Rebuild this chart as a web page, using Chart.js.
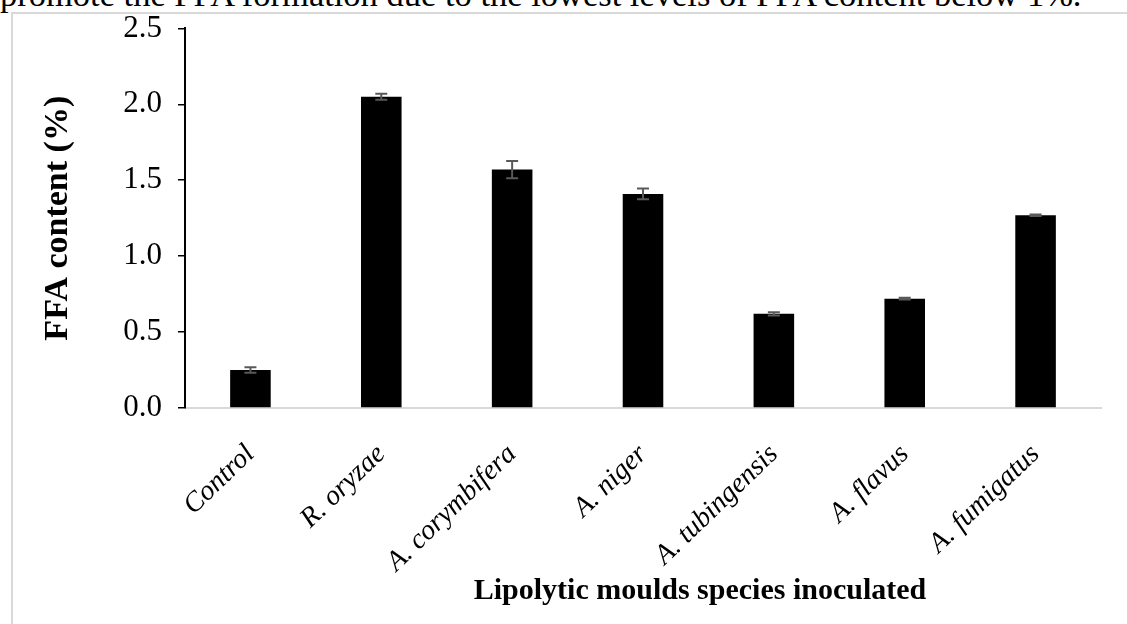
<!DOCTYPE html>
<html>
<head>
<meta charset="utf-8">
<script src="https://cdn.jsdelivr.net/npm/chart.js@4"></script>
<style>
  html, body { margin: 0; padding: 0; background: #fff; overflow: hidden; }
  body { width: 1127px; height: 624px; position: relative; font-family: 'Liberation Serif', 'Times New Roman', serif; }
  #above { position: absolute; left: 0; top: -23px; font-size: 34.5px; line-height: 1; white-space: nowrap; color: #000; }
  #frame { position: absolute; left: 11px; top: 12px; width: 1300px; height: 800px; border-left: 2px solid #d9d9d9; border-top: 2px solid #d9d9d9; }
  #myChart { position: absolute; left: 0; top: 0; }
  #xtitle { position: absolute; left: 470px; top: 574px; width: 460px; text-align: center; font-weight: bold; font-size: 30px; line-height: 1; white-space: nowrap; color: #000; }
</style>
</head>
<body>
<div id="above">promote the FFA formation due to the lowest levels of FFA content below 1%.</div>
<div id="frame"></div>
<canvas id="myChart" width="1127" height="624"></canvas>
<div id="xtitle">Lipolytic moulds species inoculated</div>
<script>
// ข้อมูลกราฟ
const categories = ['Control', 'R. oryzae', 'A. corymbifera', 'A. niger', 'A. tubingensis', 'A. flavus', 'A. fumigatus'];
const ffaContent = [0.25, 2.05, 1.57, 1.41, 0.62, 0.72, 1.27];
const ffaError = [0.018, 0.02, 0.057, 0.035, 0.01, 0.006, 0.005];
const yTicks = [0, 0.5, 1.0, 1.5, 2.0, 2.5];

const serif = "'Liberation Serif', 'Times New Roman', serif";

// error bars drawn after the bars
const errorBars = {
    id: 'errorBars',
    afterDatasetsDraw(chart) {
        const ctx = chart.ctx;
        const meta = chart.getDatasetMeta(0);
        const y = chart.scales.y;
        ctx.save();
        ctx.strokeStyle = '#595959';
        ctx.lineWidth = 2;
        meta.data.forEach((bar, i) => {
            const top = y.getPixelForValue(ffaContent[i] + ffaError[i]);
            const bot = y.getPixelForValue(ffaContent[i] - ffaError[i]);
            ctx.beginPath();
            ctx.moveTo(bar.x, top);
            ctx.lineTo(bar.x, bot);
            ctx.moveTo(bar.x - 6, top);
            ctx.lineTo(bar.x + 6, top);
            ctx.moveTo(bar.x - 6, bot);
            ctx.lineTo(bar.x + 6, bot);
            ctx.stroke();
        });
        ctx.restore();
    }
};

const ctx = document.getElementById('myChart').getContext('2d');
const myChart = new Chart(ctx, {
    type: 'bar',
    data: {
        labels: categories,
        datasets: [{
            data: ffaContent,
            backgroundColor: '#000000',
            borderWidth: 0,
            categoryPercentage: 1,
            barPercentage: 0.31
        }]
    },
    options: {
        responsive: false,
        animation: false,
        layout: { padding: { left: 0, top: 21, right: 26, bottom: 0 } },
        plugins: {
            legend: { display: false },
            tooltip: { enabled: false }
        },
        scales: {
            x: {
                grid: { display: false, drawTicks: false },
                border: { display: true, color: '#d9d9d9', width: 2 },
                ticks: {
                    color: '#000',
                    font: { family: serif, size: 28, style: 'italic' },
                    minRotation: 44,
                    maxRotation: 44,
                    padding: 30,
                    autoSkip: false
                },
                afterFit: s => { s.height = 216; }
            },
            y: {
                min: 0,
                max: 2.5,
                afterBuildTicks: s => { s.ticks = yTicks.map(v => ({ value: v })); },
                grid: { display: true, drawOnChartArea: false, drawTicks: true, tickLength: 7, color: '#000', lineWidth: 1.5 },
                border: { display: true, color: '#000', width: 2 },
                ticks: {
                    color: '#000',
                    font: { family: serif, size: 31, lineHeight: 0.8 },
                    padding: 16,
                    callback: v => Number(v).toFixed(1)
                },
                title: {
                    display: true,
                    text: 'FFA content (%)',
                    color: '#000',
                    font: { family: serif, size: 34, weight: 'bold' },
                    padding: { top: 38, bottom: 0 }
                },
                afterFit: s => { s.width = 185; }
            }
        }
    },
    plugins: [errorBars]
});
</script>
</body>
</html>
